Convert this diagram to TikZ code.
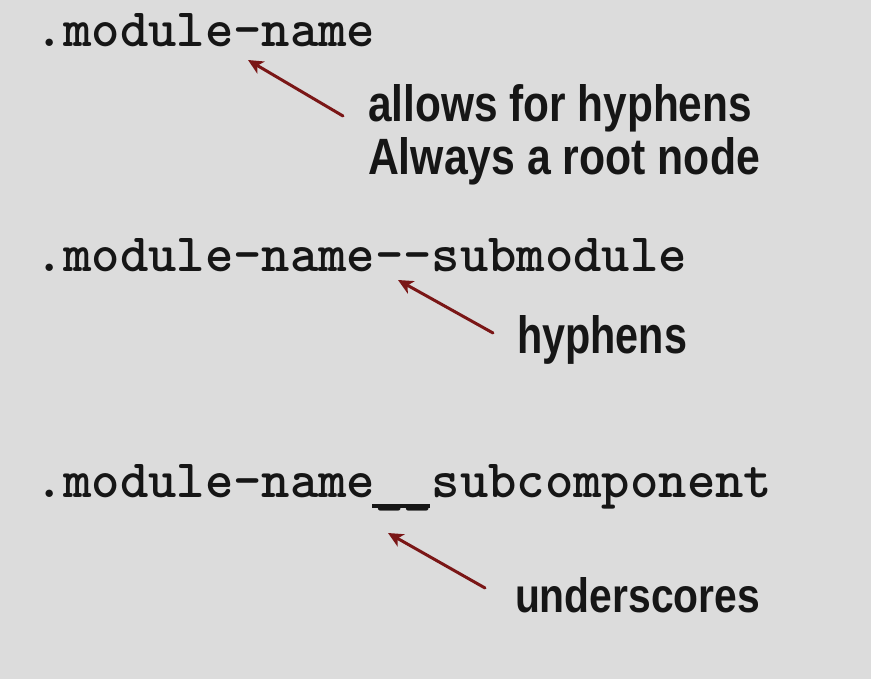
\documentclass[tikz,border=0pt]{standalone}
\usepackage{fontspec}
\usepackage{graphicx}
\newfontfamily\annotfont{Liberation Sans}
\definecolor{bg}{HTML}{DCDCDC}
\definecolor{arrred}{HTML}{7A1616}
\definecolor{ink}{HTML}{161616}
\usetikzlibrary{arrows.meta}
\tikzset{
  code/.style={anchor=base west, inner sep=0pt, outer sep=0pt, text=ink,
    font=\ttfamily\bfseries\fontsize{54}{58}\selectfont},
  annot/.style={anchor=base west, inner sep=0pt, outer sep=0pt, text=ink,
    font=\annotfont\bfseries\fontsize{40}{44}\selectfont},
  pointer/.style={draw=arrred, line width=3pt, line cap=round,
    -{Stealth[length=15pt,width=14pt,inset=4pt]}}
}
\newcommand{\hand}[3]{\resizebox{#1pt}{#2pt}{#3}}
\newcommand{\dblus}{\rlap{\hspace{-3pt}\rule[-11pt]{58pt}{4.5pt}}\raisebox{-5pt}{\_\_}}
\begin{document}
\begin{tikzpicture}[x=1pt,y=-1pt]
\fill[bg] (0,0) rectangle (871,679);
\useasboundingbox (0,0) rectangle (871,679);
% code lines
\node[code] (c1) at (35,47) {.module-name};
\node[code] (c2) at (35,272) {.module-name--submodule};
\node[code] (c3) at (35,497) {.module-name\dblus subcomponent};
% annotations
\node[annot] (n1) at (368,122) {\hand{384}{37}{allows for hyphens}};
\node[annot] (n2) at (368,175) {\hand{392}{37}{Always a root node}};
\node[annot] (n3) at (517,353) {\hand{170}{38}{hyphens}};
\node[annot] (n4) at (515,612) {\hand{245}{35}{underscores}};
% arrow end points
\coordinate (s1) at (343,116);
\coordinate (t1) at (248,60);
\coordinate (s2) at (493,333);
\coordinate (t2) at (398,280);
\coordinate (s3) at (485,588);
\coordinate (t3) at (388,533);
\draw[pointer] (s1) -- (t1);
\draw[pointer] (s2) -- (t2);
\draw[pointer] (s3) -- (t3);
\end{tikzpicture}
\end{document}
